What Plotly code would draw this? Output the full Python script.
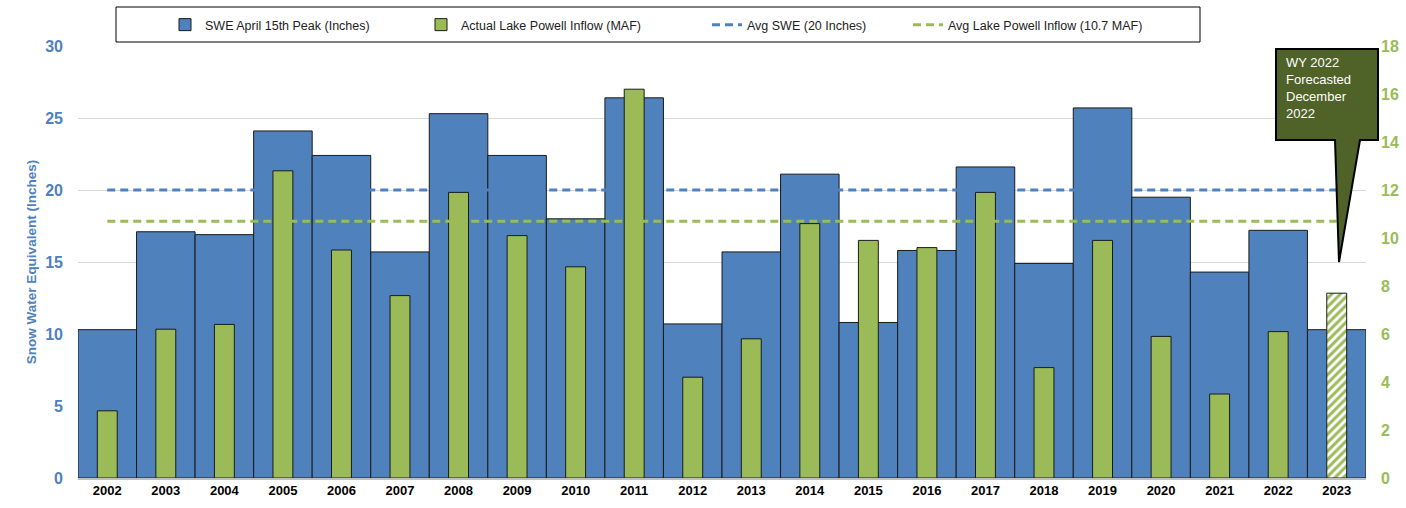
import plotly.graph_objects as go

years = [str(y) for y in range(2002, 2024)]
swe_peak = [10.3, 17.1, 16.9, 24.1, 22.4, 15.7, 25.3, 22.4, 18.0, 26.4, 10.7,
            15.7, 21.1, 10.8, 15.8, 21.6, 14.9, 25.7, 19.5, 14.3, 17.2, 10.3]
powell_inflow = [2.8, 6.2, 6.4, 12.8, 9.5, 7.6, 11.9, 10.1, 8.8, 16.2, 4.2,
                 5.8, 10.6, 9.9, 9.6, 11.9, 4.6, 9.9, 5.9, 3.5, 6.1, 7.7]
forecast_flags = [False] * 21 + [True]
avg_swe = 20
avg_inflow = 10.7

BLUE = "#4F81BD"
GREEN = "#9BBB59"
FONT = "Liberation Sans, Arial, sans-serif"

# plot area in pixels (for paper-coordinate helpers)
L, R, T, B = 78, 1366, 46, 478
def px(x):
    return (x - L) / (R - L)
def py(y):
    return (B - y) / (B - T)

actual_inflow = [None if f else v for v, f in zip(powell_inflow, forecast_flags)]
forecast_inflow = [v if f else None for v, f in zip(powell_inflow, forecast_flags)]

fig = go.Figure()
fig.add_bar(
    x=years, y=swe_peak, width=1.0, name="SWE April 15th Peak (Inches)", legend="legend",
    marker=dict(color=BLUE, line=dict(color="#1a1a1a", width=1)),
)
fig.add_bar(
    x=years, y=actual_inflow, width=0.34, yaxis="y2", legend="legend2",
    name="Actual Lake Powell Inflow (MAF)",
    marker=dict(color=GREEN, line=dict(color="#1a1a1a", width=1)),
)
fig.add_bar(
    x=years, y=forecast_inflow, width=0.34, yaxis="y2", showlegend=False,
    name="Forecasted Inflow",
    marker=dict(color=GREEN, line=dict(color="#1a1a1a", width=1),
                pattern=dict(shape="/", fillmode="replace", bgcolor="white",
                             fgcolor=GREEN, size=6, solidity=0.5)),
)
fig.add_scatter(
    x=years, y=[avg_swe] * len(years), mode="lines", name="Avg SWE (20 Inches)",
    legend="legend3", line=dict(color=BLUE, width=3, dash="8px,5px"),
)
fig.add_scatter(
    x=years, y=[avg_inflow] * len(years), mode="lines", yaxis="y2", legend="legend4",
    name="Avg Lake Powell Inflow (10.7 MAF)",
    line=dict(color=GREEN, width=3, dash="8px,5px"),
)

# callout
pts = [(1276, 49), (1378, 49), (1378, 140), (1360, 140), (1339, 262), (1335, 140), (1276, 140)]
path = "M " + " L ".join(f"{px(x):.5f},{py(y):.5f}" for x, y in pts) + " Z"
shapes = [
    dict(type="path", xref="paper", yref="paper", path=path,
         fillcolor="#4F6228", line=dict(color="black", width=2), layer="above"),
    dict(type="rect", xref="paper", yref="paper",
         x0=px(116), x1=px(1200), y0=py(42), y1=py(7),
         line=dict(color="black", width=1), fillcolor="rgba(0,0,0,0)"),
]
annotations = [
    dict(xref="paper", yref="paper", x=px(1284), y=py(53), xanchor="left", yanchor="top",
         text="WY 2022<br>Forecasted<br>December<br>2022", showarrow=False, align="left",
         font=dict(family=FONT, size=13, color="white")),
]

def leg(xpix):
    return dict(orientation="h", x=px(xpix), xanchor="left", y=py(25), yanchor="middle",
                font=dict(family=FONT, size=12.5, color="#222"),
                bgcolor="rgba(0,0,0,0)", borderwidth=0)

fig.update_layout(
    width=1406, height=508,
    margin=dict(l=L, r=1406 - R, t=T, b=508 - B, autoexpand=False),
    paper_bgcolor="white", plot_bgcolor="white",
    barmode="overlay",
    font=dict(family=FONT, color="black"),
    showlegend=True,
    legend=leg(165), legend2=leg(421), legend3=leg(707), legend4=leg(908),
    xaxis=dict(type="category", showline=True, linecolor="#BFBFBF", linewidth=1.5,
               ticks="", showgrid=False,
               tickfont=dict(family=FONT, size=13, color="black", weight="bold")),
    yaxis=dict(range=[0, 30], dtick=5, showgrid=True, gridcolor="#D9D9D9", zeroline=False,
               showline=False, ticks="", ticklabelstandoff=14,
               tickfont=dict(family=FONT, size=16, color=BLUE, weight="bold"),
               title=dict(text="Snow Water Equivalent (Inches)", standoff=5,
                          font=dict(family=FONT, size=13.5, color=BLUE, weight="bold"))),
    yaxis2=dict(range=[0, 18], dtick=2, overlaying="y", side="right", showgrid=False,
                zeroline=False, showline=False, ticks="", ticklabelstandoff=14,
                tickfont=dict(family=FONT, size=16, color=GREEN, weight="bold")),
    shapes=shapes, annotations=annotations,
)

fig.write_html("out.html", config={"displayModeBar": False},
               post_script="document.body.style.margin='0';")
